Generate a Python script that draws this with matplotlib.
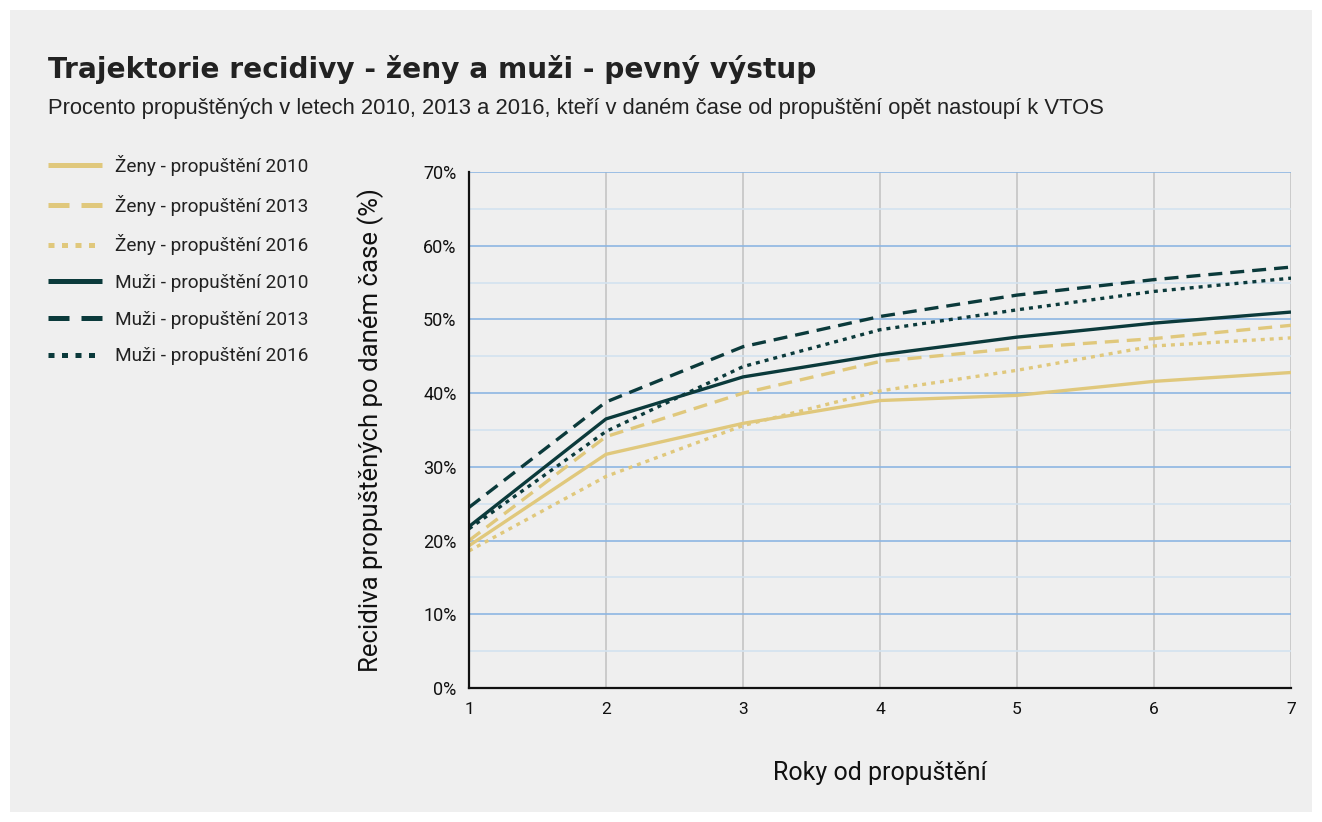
import matplotlib.pyplot as plt
from matplotlib.patches import Rectangle
from matplotlib.ticker import MultipleLocator, FuncFormatter

# Years since release
years = [1, 2, 3, 4, 5, 6, 7]

# Share of released people back in prison (%)
zeny_2010 = [19.3, 31.7, 35.9, 39.0, 39.7, 41.6, 42.8]
zeny_2013 = [20.0, 34.1, 40.0, 44.3, 46.1, 47.4, 49.2]
zeny_2016 = [18.6, 28.7, 35.6, 40.3, 43.1, 46.4, 47.5]
muzi_2010 = [21.9, 36.5, 42.2, 45.2, 47.6, 49.5, 51.0]
muzi_2013 = [24.5, 38.8, 46.3, 50.4, 53.3, 55.4, 57.1]
muzi_2016 = [21.6, 34.8, 43.6, 48.6, 51.3, 53.8, 55.6]

labels = ["Ženy - propuštění 2010", "Ženy - propuštění 2013", "Ženy - propuštění 2016",
          "Muži - propuštění 2010", "Muži - propuštění 2013", "Muži - propuštění 2016"]

gold = "#e0c87c"
teal = "#0b3a3b"
bg = "#efefef"

fig = plt.figure(figsize=(13.22, 8.22), dpi=100)
fig.patches.append(Rectangle((10 / 1322, 10 / 822), 1302 / 1322, 802 / 822,
                             transform=fig.transFigure, facecolor=bg, edgecolor="none", zorder=-10))

ax = fig.add_axes([469 / 1322, 1 - 688 / 822, 822 / 1322, 516 / 822])
ax.set_facecolor(bg)

series = [zeny_2010, zeny_2013, zeny_2016, muzi_2010, muzi_2013, muzi_2016]
colors = [gold, gold, gold, teal, teal, teal]
styles = [None, (4.2, 2.4), (1.2, 1.5)] * 2

lines = []
for vals, col, dash, lab in zip(series, colors, styles, labels):
    ln, = ax.plot(years, vals, color=col, lw=2.4, label=lab, solid_capstyle="butt",
                  dash_capstyle="butt")
    if dash is not None:
        ln.set_dashes(dash)
    lines.append(ln)

ax.set_xlim(1, 7)
ax.set_ylim(0, 70)
ax.yaxis.set_major_locator(MultipleLocator(10))
ax.yaxis.set_minor_locator(MultipleLocator(5))
ax.yaxis.set_major_formatter(FuncFormatter(lambda v, p: f"{v:.0f}%"))
ax.grid(axis="y", which="major", color="#8db6e2", lw=1.2, zorder=0)
ax.grid(axis="y", which="minor", color="#d3e2f0", lw=1.2, zorder=0)
ax.grid(axis="x", which="major", color="#c4c4c4", lw=1.2, zorder=0)
ax.set_axisbelow(True)
ax.tick_params(which="both", length=0)
ax.tick_params(axis="y", pad=9, labelsize=13, labelcolor="#111111")
ax.tick_params(axis="x", pad=10, labelsize=12.5, labelcolor="#111111")
for t in ax.get_xticklabels() + ax.get_yticklabels():
    t.set_family("Roboto")
for side in ["top", "right"]:
    ax.spines[side].set_visible(False)
ax.spines["left"].set_color("#111111")
ax.spines["bottom"].set_color("#111111")
ax.spines["left"].set_linewidth(1.6)
ax.spines["bottom"].set_linewidth(1.6)

ax.set_xlabel("Roky od propuštění", family="Roboto", fontsize=18, labelpad=32, color="#111111")
ax.set_ylabel("Recidiva propuštěných po daném čase (%)", family="Roboto", fontsize=18.5,
              labelpad=28, color="#111111")

fig.text(48 / 1322, 1 - 70 / 822, "Trajektorie recidivy - ženy a muži - pevný výstup",
         fontsize=20.2, fontweight="bold", family="DejaVu Sans", color="#222222", va="center")
fig.text(48 / 1322, 1 - 108 / 822,
         "Procento propuštěných v letech 2010, 2013 a 2016, kteří v daném čase od propuštění opět nastoupí k VTOS",
         fontsize=15.8, family="Liberation Sans", color="#222222", va="center")

leg = fig.legend(handles=lines, labels=labels, loc="upper left",
                 bbox_to_anchor=(31 / 1322, 1 - 138 / 822), frameon=False,
                 handlelength=2.85, handletextpad=0.65, labelspacing=0.98,
                 prop={"family": "Roboto", "size": 13.7})
for t in leg.get_texts():
    t.set_color("#222222")
for h in leg.get_lines():
    h.set_linewidth(3.6)

fig.savefig("out.png", dpi=100)
